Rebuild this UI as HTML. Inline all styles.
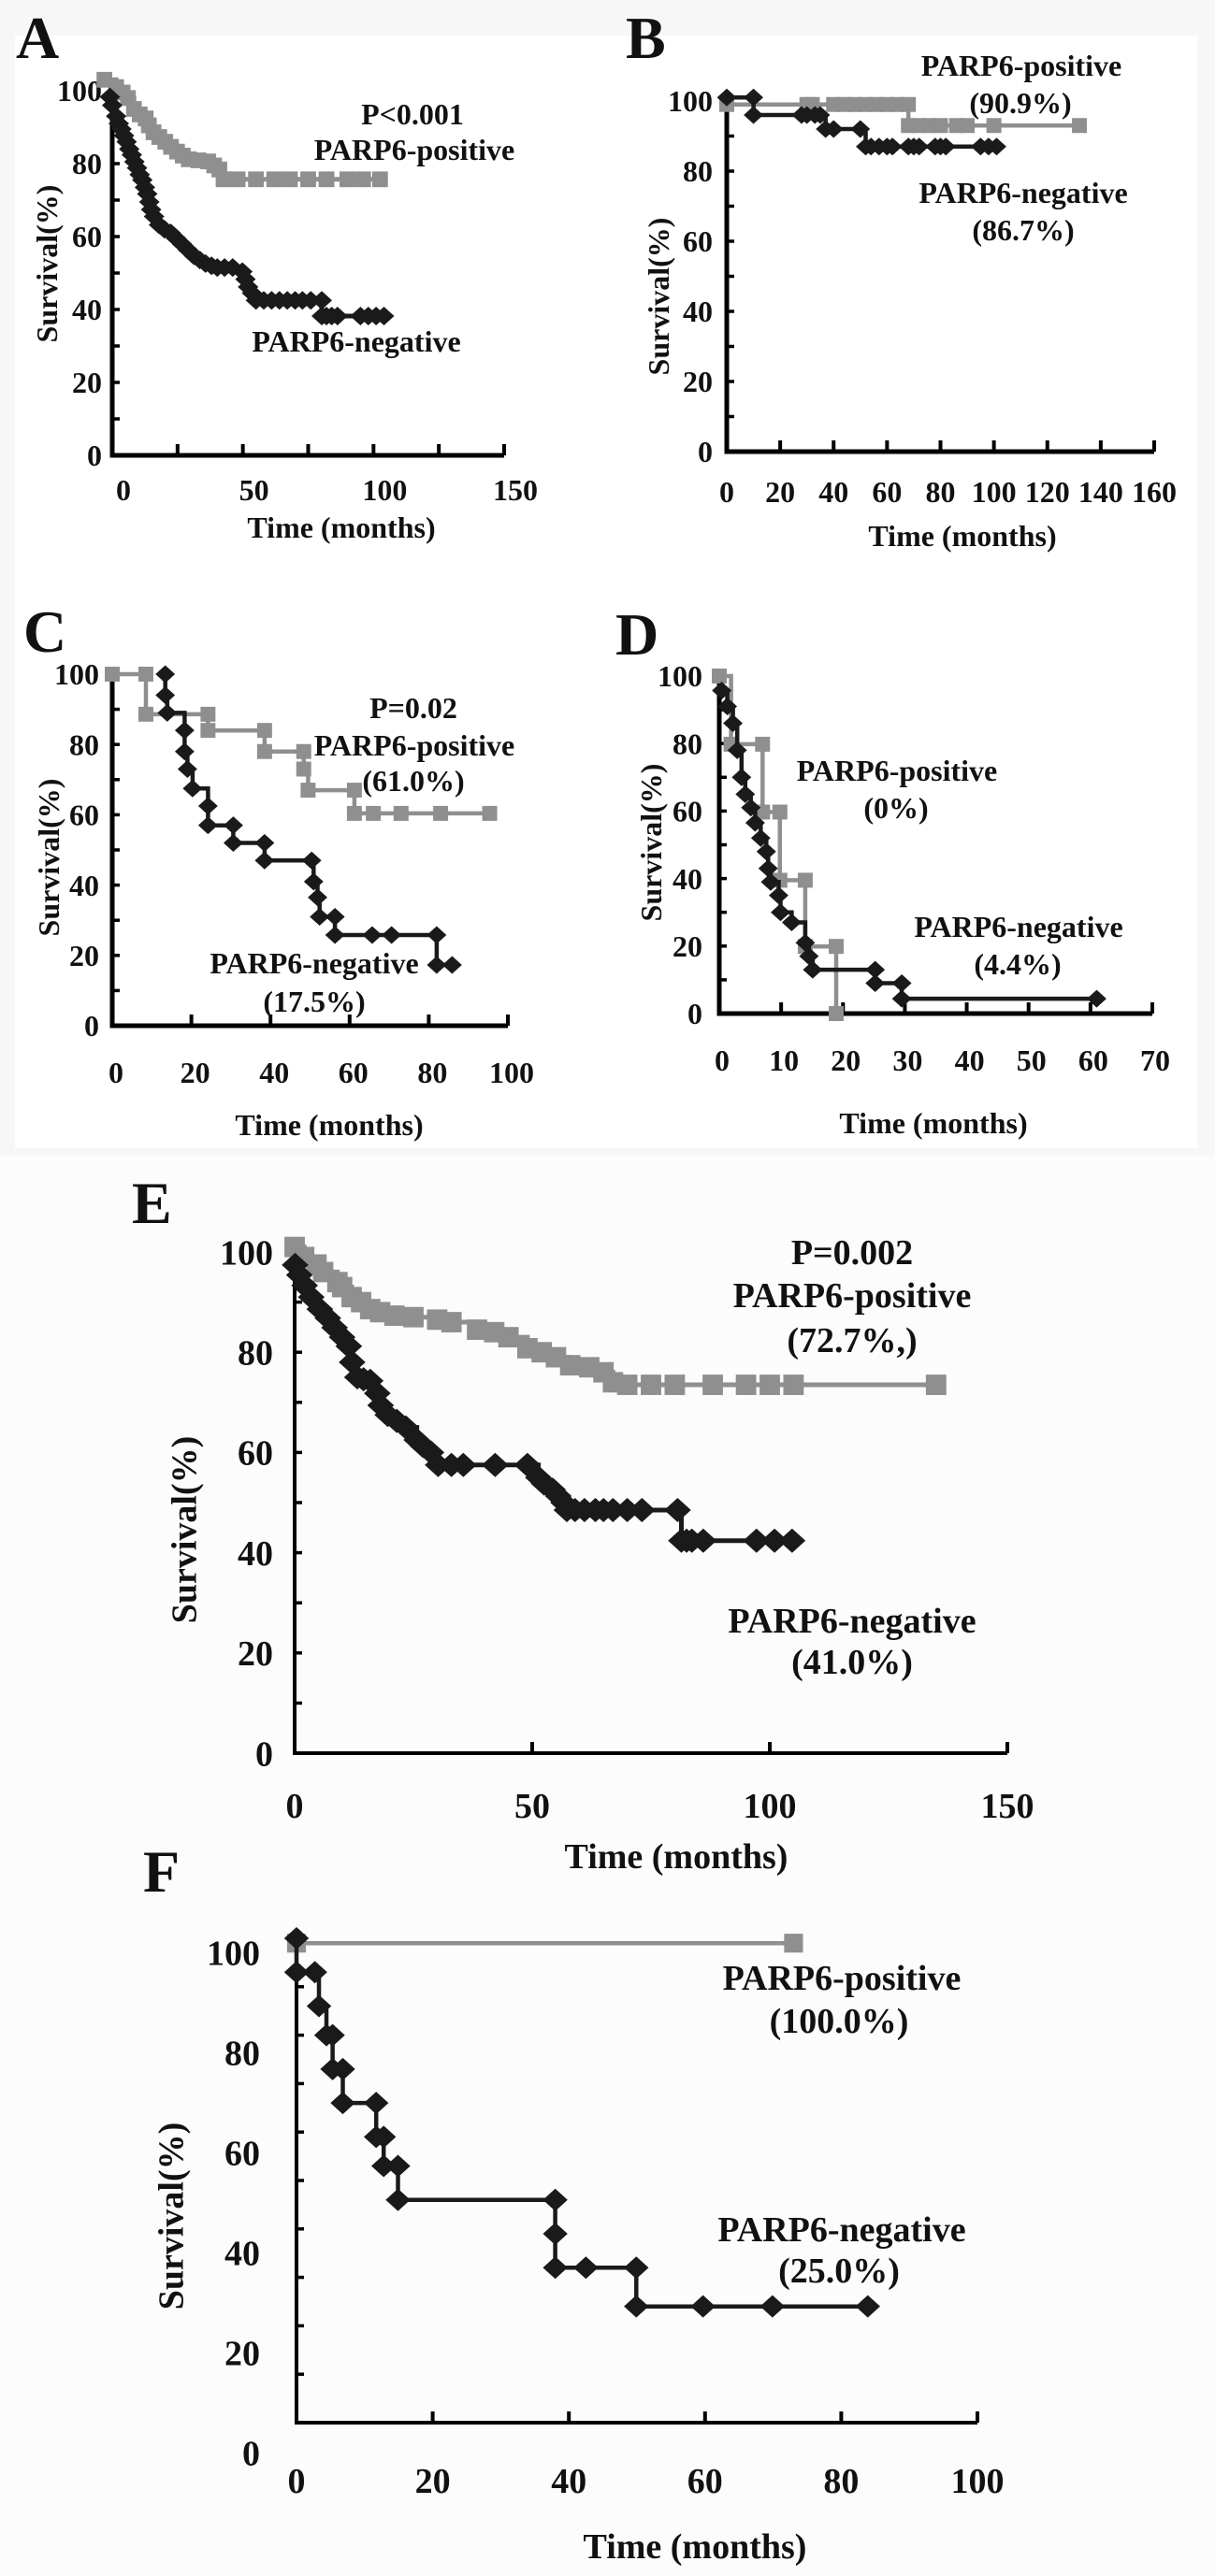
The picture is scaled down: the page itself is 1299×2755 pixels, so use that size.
<!DOCTYPE html>
<html><head><meta charset="utf-8"><style>
html,body{margin:0;padding:0;background:#f7f7f7;}
svg{display:block;}
text{font-family:"Liberation Serif",serif;font-weight:bold;fill:#111;}
</style></head><body>
<svg id="fig" width="1299" height="2755" viewBox="0 0 1299 2755" xmlns="http://www.w3.org/2000/svg">
<rect x="0" y="0" width="1299" height="2755" fill="#f7f7f7"/>
<rect x="16" y="38" width="1264" height="1190" fill="#ffffff"/>
<rect x="0" y="1236" width="1299" height="1519" fill="#fcfcfc"/>
</svg>
<script>
// ---- Panel A data ----
const aPosT=[-3,1.5,4,6,8.3,10.5,12.8,14,15.8,18,20.3,22.5,24.8,27,29.3,33,36.7,39,41,42.6,48,55,62,68,75,82,90,96,102.5];
const aPosS=[103,101,99.5,98,95,93.5,92.4,90.5,88.6,87.3,86,84.6,83.3,82.2,81.2,80.9,80.6,79.5,78.4,75.7,75.7,75.7,75.7,75.7,75.7,75.7,75.7,75.7,75.7];
const aNegT=[-0.9,0,1.5,2.5,3.5,4.5,5.5,6.5,7.5,8.5,9.5,10.5,11.5,12.5,13.4,14.2,14.9,16,17.9,20,22.4,24.5,26.8,29,31.3,33.5,35.7,38,40.2,43,46.1,49.8,51,52,53.5,55,58,61,64,67,70,72.8,76,80.2,80.2,82,84,86.2,95,98,101,104];
const aNegS=[98.3,96,93,91,89.5,87.7,86,84,82.4,80.5,78.8,77,75.5,73.5,71.7,69.5,67.4,65.5,63.2,62,61,59.5,57.9,56.3,54.7,53.6,52.6,52,51.5,51.5,51.5,50.4,48.3,46.2,44.5,42.5,42.5,42.5,42.5,42.5,42.5,42.5,42.5,42.5,38.2,38.2,38.2,38.2,38.2,38.2,38.2,38.2];
// ---- Panel B data ----
const bPosT=[0,30,32,40,44,48,52,56,60,64,68,68,72,76,80,86,90,100,132];
const bPosS=[99,99,99,99,99,99,99,99,99,99,99,93,93,93,93,93,93,93,93];
const bNegT=[0,10,10,28,30,33,35,37,40,50,52,54,57,60,62,68,70,72,78,80,82,95,98,101];
const bNegS=[101,101,96,96,96,96,96,92,92,92,87,87,87,87,87,87,87,87,87,87,87,87,87,87];
// ---- Panel C data ----
const cPosT=[0,8.5,8.5,24.2,24.2,38.5,38.5,48.4,48.4,49.5,61.2,61.2,66,73,83,95.4];
const cPosS=[100,100,88.6,88.6,84,84,78,78,73,67,67,60.4,60.4,60.4,60.4,60.4];
const cNegT=[13.4,13.4,13.9,18.3,18.3,19,20.3,24.2,24.2,30.6,30.6,38.5,38.5,50.4,50.9,51.9,52.4,56.3,56.3,65.7,70.6,82,82,85.9];
const cNegS=[100,94,89,84,78,73,67.5,62.5,57,57,52,52,47,47,41,36.5,31,31,25.8,25.8,25.8,25.8,17.3,17.3];
// ---- Panel D data ----
const dPosT=[0,1.9,7,7,9.8,9.8,13.9,13.9,18.9,18.9];
const dPosS=[100,79.8,79.8,59.7,59.7,39.5,39.5,19.9,19.9,0];
const dNegT=[0.4,1.3,2.2,2.9,3.6,4.2,5.1,5.8,6.7,7.6,7.9,8.3,9.6,9.9,11.7,13.9,14.5,15.1,25.2,25.2,29.5,29.5,61];
const dNegS=[95.7,91,86,78,70,65,61,56.5,52,48,43,39,35,30,27,21,17,13,13,9,9,4.4,4.4];
// ---- Panel E data ----
const ePosT=[0,2,4.6,6,9,10,12,14,15.9,18,21,25,30,33,38.4,42,45,49,52,55,58,62,65,67,70,75,80,88,95,100,105,135];
const ePosS=[101,99,97.5,96,94,93,91,90,88.6,88,87.3,87,86.5,86,84.5,84,83,80.8,80,79,77.4,77,76,74,73.5,73.5,73.5,73.5,73.5,73.5,73.5,73.5];
const eNegT=[0.1,1,2.1,3.5,5.3,7,8.4,10,11.4,12.1,13.2,14.5,15.9,17.4,18.1,19.6,21.5,23.4,25.7,27,28.7,30.2,33,35.5,42.2,49,51.3,52.5,54.3,55.5,56.6,57.3,59,61,63.3,65,67,70,73.1,80.6,81.4,82.5,83.6,86,97.2,101,104.7];
const eNegS=[97.4,95.4,93.3,91,88.6,86.8,84.9,83,81.2,78,75,74.6,74.3,71.8,69.4,67.5,66.3,65,62.5,61.3,60,57.5,57.5,57.5,57.5,57.5,55,53.8,52.6,51.3,50,48.5,48.5,48.5,48.5,48.5,48.5,48.5,48.5,48.5,42.4,42.4,42.4,42.4,42.4,42.4,42.4];
// ---- Panel F data ----
const fPosT=[0,73];
const fPosS=[99,99];
const fNegT=[0,0,2.7,3.3,4.4,5.3,5.3,6.8,6.8,11.7,11.7,12.8,12.8,14.9,14.9,38,38,38,42.5,49.9,49.9,59.7,69.9,83.9];
const fNegS=[100,93,93,86,80,80,73,73,66,66,59,59,53,53,46,46,39,32,32,32,24,24,24,24];

const yTickVals=[0,20,40,60,80,100];
const aXTicks=[0,50,100,150], bXTicks=[0,20,40,60,80,100,120,140,160], cXTicks=[0,20,40,60,80,100],
      dXTicks=[0,10,20,30,40,50,60,70], eXTicks=[0,50,100,150], fXTicks=[0,20,40,60,80,100];

const NS="http://www.w3.org/2000/svg";
const svg=document.getElementById('fig');
function mk(tag,attrs,parent){const e=document.createElementNS(NS,tag);for(const k in attrs)e.setAttribute(k,attrs[k]);(parent||svg).appendChild(e);return e;}
function txt(s,x,y,size,anchor,parent){const t=mk('text',{x:x,y:y,'font-size':size,'text-anchor':anchor||'middle'},parent);t.textContent=s;return t;}

const panels=[
 {id:'a',letter:'A',lx:17,ly:62,ax:120,xMax:150,xEnd:539,y0:487,y100:97,minorX:25,xticks:aXTicks,lblDx:12,xLabY:535,yLabR:109,fs:32,xTitleX:365,xTitleY:575,yTitleX:50,yTitleY:282,ms:20,lw:5,
  pos:[aPosT,aPosS],neg:[aNegT,aNegS],
  notes:[['P<0.001',441,133],['PARP6-positive',443,171],['PARP6-negative',381,376]]},
 {id:'b',letter:'B',lx:669,ly:62,ax:777,xMax:160,xEnd:1234,y0:483,y100:108,minorX:20,xticks:bXTicks,lblDx:0,xLabY:537,yLabR:762,fs:32,xTitleX:1029,xTitleY:584,yTitleX:704,yTitleY:317,ms:19,lw:4.5,
  pos:[bPosT,bPosS],neg:[bNegT,bNegS],
  notes:[['PARP6-positive',1092,81],['(90.9%)',1091,121],['PARP6-negative',1094,217],['(86.7%)',1094,257]]},
 {id:'c',letter:'C',lx:25,ly:697,ax:120,xMax:100,xEnd:543,y0:1097,y100:721,minorX:20,xticks:cXTicks,lblDx:4,xLabY:1158,yLabR:106,fs:32,xTitleX:352,xTitleY:1214,yTitleX:52,yTitleY:917,ms:19,lw:4.5,
  pos:[cPosT,cPosS],neg:[cNegT,cNegS],
  notes:[['P=0.02',442,768],['PARP6-positive',443,808],['(61.0%)',442,846],['PARP6-negative',336,1041],['(17.5%)',336,1082]]},
 {id:'d',letter:'D',lx:658,ly:700,ax:769,xMax:70,xEnd:1232,y0:1084,y100:723,minorX:10,xticks:dXTicks,lblDx:3,xLabY:1145,yLabR:751,fs:32,xTitleX:998,xTitleY:1212,yTitleX:696,yTitleY:901,ms:19,lw:4.5,
  pos:[dPosT,dPosS],neg:[dNegT,dNegS],
  notes:[['PARP6-positive',959,835],['(0%)',958,875],['PARP6-negative',1089,1002],['(4.4%)',1088,1042]]},
 {id:'e',letter:'E',lx:141,ly:1308,ax:315,xMax:150,xEnd:1077,y0:1875,y100:1339,minorX:50,xticks:eXTicks,lblDx:0,xLabY:1944,yLabR:292,fs:38,xTitleX:723,xTitleY:1998,yTitleX:196,yTitleY:1636,ms:26,lw:5,
  pos:[ePosT,ePosS],neg:[eNegT,eNegS],
  notes:[['P=0.002',911,1352],['PARP6-positive',911,1398],['(72.7%,)',911,1446],['PARP6-negative',911,1746],['(41.0%)',911,1790]]},
 {id:'f',letter:'F',lx:153,ly:2023,ax:317,xMax:100,xEnd:1045,y0:2591,y100:2073,minorX:20,xticks:fXTicks,lblDx:0,xLabY:2666,yLabR:278,fs:38,xTitleX:743,xTitleY:2736,yTitleX:182,yTitleY:2370,ms:24,lw:4.5,lab0:2623,lab100:2088,
  pos:[fPosT,fPosS],neg:[fNegT,fNegS],
  notes:[['PARP6-positive',900,2128],['(100.0%)',897,2174],['PARP6-negative',900,2397],['(25.0%)',897,2441]]}
];

function drawSeries(g,p,T,S,color,shape,name){
  const X=t=>p.ax+(t/p.xMax)*(p.xEnd-p.ax);
  const Y=s=>p.y0-(s/100)*(p.y0-p.y100);
  let d='M'+X(T[0]).toFixed(1)+' '+Y(S[0]).toFixed(1);
  for(let i=1;i<T.length;i++){d+=' H'+X(T[i]).toFixed(1)+' V'+Y(S[i]).toFixed(1);}
  const path=mk('path',{d:d,fill:'none',stroke:color,'stroke-width':p.lw},g);
  
  
  const m=p.ms;
  for(let i=0;i<T.length;i++){
    const x=X(T[i]),y=Y(S[i]);let el;
    if(shape==='square'){el=mk('rect',{x:x-m*0.42,y:y-m*0.42,width:m*0.84,height:m*0.84,fill:color},g);}
    else{const w=m*0.55,h=m*0.5;el=mk('polygon',{points:`${x-w},${y} ${x},${y-h} ${x+w},${y} ${x},${y+h}`,fill:color},g);}
    
    
  }
}

panels.forEach(p=>{
  const g=mk('g',{});
  
  
  const L=txt(p.letter,p.lx,p.ly,64,'start',g);
  
  
  const X=t=>p.ax+(t/p.xMax)*(p.xEnd-p.ax);
  const Y=s=>p.y0-(s/100)*(p.y0-p.y100);
  const ax=mk('path',{d:`M${p.ax} ${p.y100-6} V${p.y0} H${p.xEnd}`,fill:'none',stroke:'#000','stroke-width':p.fs>35?4:5},g);
  
  
  for(let v=10;v<=100;v+=10){const tk=mk('line',{x1:p.ax,x2:p.ax+8,y1:Y(v),y2:Y(v),stroke:'#000','stroke-width':3.5},g);
    
    }
  for(let t=p.minorX;t<=p.xMax+0.01;t+=p.minorX){const tk=mk('line',{x1:X(t),x2:X(t),y1:p.y0,y2:p.y0-12,stroke:'#000','stroke-width':4},g);
    
    }
  yTickVals.forEach(v=>{
    const yy=p.lab0!==undefined?(p.lab0-(v/100)*(p.lab0-p.lab100)):Y(v);
    const t=txt(String(v),p.yLabR,yy+p.fs*0.35,p.fs,'end',g);
    
    
  });
  p.xticks.forEach(v=>{const t=txt(String(v),X(v)+p.lblDx,p.xLabY,p.fs,'middle',g);
    
    });
  const xt=txt('Time (months)',p.xTitleX,p.xTitleY,p.fs,'middle',g);
  
  
  const yt=txt('Survival(%)',p.yTitleX,p.yTitleY+p.fs*0.35,p.fs,'middle',g);
  yt.setAttribute('transform',`rotate(-90 ${p.yTitleX} ${p.yTitleY})`);
  
  
  drawSeries(g,p,p.pos[0],p.pos[1],'#8f8f8f','square','parp6-positive');
  drawSeries(g,p,p.neg[0],p.neg[1],'#1a1a1a','diamond','parp6-negative');
  p.notes.forEach(n=>{const t=txt(n[0],n[1],n[2],p.fs,'middle',g);
    
    });
});
</script>
</body></html>
